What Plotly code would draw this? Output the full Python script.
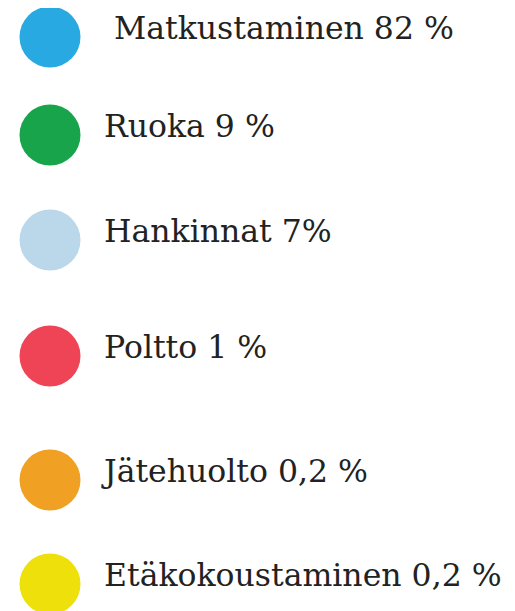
import plotly.graph_objects as go

labels = [" Matkustaminen 82 %", "Ruoka 9 %", "Hankinnat 7%", "Poltto 1 %",
          "Jätehuolto 0,2 %", "Etäkokoustaminen 0,2 %"]
colors = ["#29A9E1", "#17A44B", "#BAD8EA", "#EF4456", "#F0A124", "#EEE10B"]
row_y = [37, 135, 240, 356, 480, 584]

PAGE_W, PAGE_H = 515, 611
OFF = 8  # default page body margin
marker_x = 50
text_x = 104
text_shift = -6

fig = go.Figure()
fig.add_trace(go.Scatter(
    x=[marker_x] * len(labels), y=row_y, mode="markers",
    marker=dict(size=61, color=colors, line=dict(width=0)),
    hoverinfo="skip", showlegend=False, cliponaxis=False))
fig.add_trace(go.Scatter(
    x=[text_x] * len(labels), y=[v + text_shift for v in row_y], mode="text",
    text=labels, textposition="middle right",
    textfont=dict(family="DejaVu Serif", size=31.5, color="#222222"),
    hoverinfo="skip", showlegend=False, cliponaxis=False))

fig.update_layout(
    width=PAGE_W - OFF, height=PAGE_H - OFF, margin=dict(l=0, r=0, t=0, b=0),
    paper_bgcolor="white", plot_bgcolor="white",
    xaxis=dict(range=[OFF, PAGE_W], visible=False, fixedrange=True),
    yaxis=dict(range=[PAGE_H, OFF], visible=False, fixedrange=True),
)
fig.write_html("out.html", config={"displayModeBar": False})
